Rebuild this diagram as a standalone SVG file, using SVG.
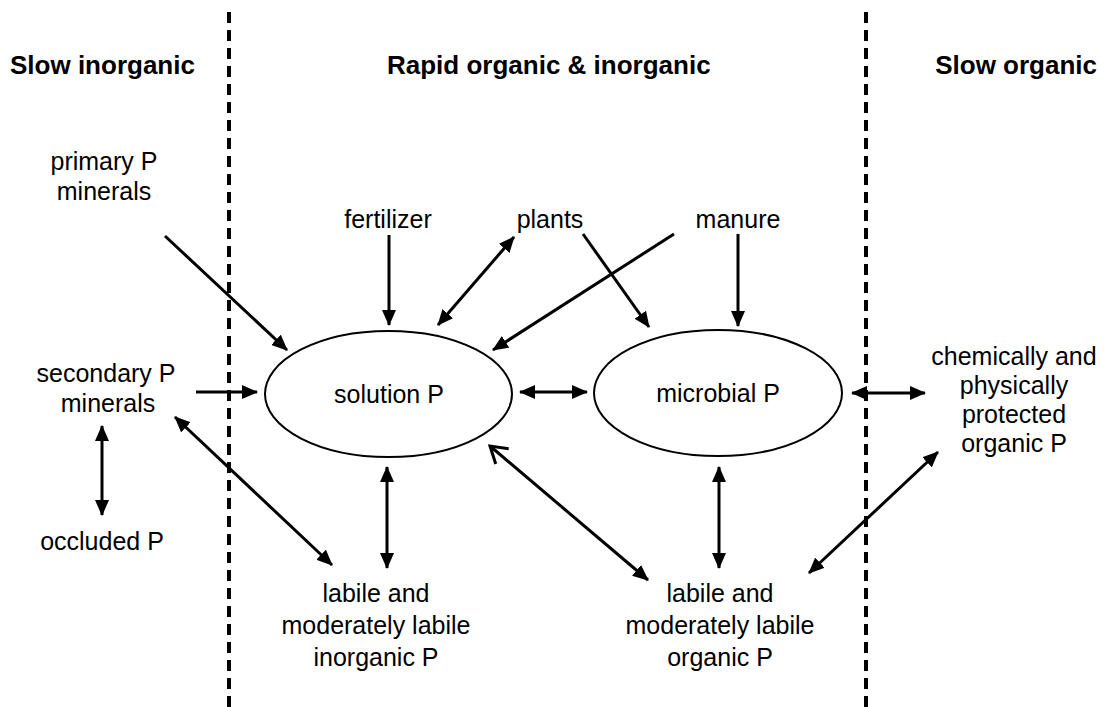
<svg xmlns="http://www.w3.org/2000/svg" width="1108" height="707" viewBox="0 0 1108 707">
<style>
text{font-family:"Liberation Sans",Arial,sans-serif;font-size:25px;fill:#000;text-anchor:middle}
.h{font-weight:bold;font-size:26px;text-anchor:start}
.div{stroke:#000;stroke-width:4;stroke-dasharray:11 7}
.ell{fill:#fff;stroke:#000;stroke-width:2}
.a{stroke:#000;stroke-width:3;fill:none;marker-end:url(#ah)}
.d{stroke:#000;stroke-width:3;fill:none;marker-end:url(#ah);marker-start:url(#ah)}
</style>
<defs>
<marker id="ah" markerUnits="userSpaceOnUse" markerWidth="16" markerHeight="14" viewBox="0 0 16 14" refX="15" refY="7" orient="auto-start-reverse"><path d="M0,0 L16,7 L0,14 z" fill="#000"/></marker>
<marker id="open" markerUnits="userSpaceOnUse" markerWidth="22" markerHeight="24" viewBox="0 0 22 24" refX="20" refY="12" orient="auto-start-reverse" overflow="visible"><path d="M4,2 L20,12 L4,22" fill="none" stroke="#000" stroke-width="3"/></marker>
</defs>
<rect width="1108" height="707" fill="#fff"/>
<g id="dividers">
<line class="div" x1="229" y1="12" x2="229" y2="707"/>
<line class="div" x1="866" y1="12" x2="866" y2="707"/>
</g>
<g id="headers">
<text class="h" x="10" y="74">Slow inorganic</text>
<text class="h" x="387" y="74">Rapid organic &amp; inorganic</text>
<text class="h" x="1097" y="74" style="text-anchor:end">Slow organic</text>
</g>
<g id="connectors">
<line class="a" x1="165" y1="236" x2="287" y2="350"/>
<line class="a" x1="196" y1="392" x2="257" y2="392"/>
<line class="d" x1="102" y1="426" x2="102" y2="515"/>
<line class="d" x1="175" y1="417" x2="332" y2="565"/>
<line class="a" x1="389" y1="235" x2="389" y2="325"/>
<line class="d" x1="514" y1="237" x2="438" y2="325"/>
<line class="a" x1="583" y1="234" x2="649" y2="327"/>
<line class="a" x1="674" y1="234" x2="493" y2="350"/>
<line class="a" x1="738" y1="234" x2="738" y2="326"/>
<line class="d" x1="520" y1="392" x2="587" y2="392"/>
<line class="d" x1="852" y1="393" x2="925" y2="393"/>
<line class="d" x1="387" y1="467" x2="387" y2="568"/>
<line class="d" x1="719" y1="467" x2="719" y2="568"/>
<line stroke="#000" stroke-width="3" fill="none" marker-end="url(#ah)" marker-start="url(#open)" x1="490" y1="446" x2="648" y2="580"/>
<line class="d" x1="938" y1="452" x2="809" y2="573"/>
</g>
<g id="solution"><ellipse class="ell" cx="388.5" cy="394" rx="123.5" ry="63"/><text x="389" y="403">solution P</text></g>
<g id="microbial"><ellipse class="ell" cx="718" cy="393" rx="124" ry="63"/><text x="718" y="402">microbial P</text></g>
<g id="primary"><text x="104" y="170">primary P</text><text x="104" y="200">minerals</text></g>
<g id="secondary"><text x="106" y="382">secondary P</text><text x="108" y="412">minerals</text></g>
<g id="occluded"><text x="102" y="550">occluded P</text></g>
<g id="fertilizer"><text x="388" y="228">fertilizer</text></g>
<g id="plants"><text x="550" y="228">plants</text></g>
<g id="manure"><text x="738" y="228">manure</text></g>
<g id="labile-inorganic"><text x="376" y="602">labile and</text><text x="376" y="634">moderately labile</text><text x="376" y="666">inorganic P</text></g>
<g id="labile-organic"><text x="720" y="602">labile and</text><text x="720" y="634">moderately labile</text><text x="720" y="666">organic P</text></g>
<g id="protected"><text x="1014" y="365">chemically and</text><text x="1014" y="394">physically</text><text x="1014" y="423">protected</text><text x="1014" y="452">organic P</text></g>
</svg>
